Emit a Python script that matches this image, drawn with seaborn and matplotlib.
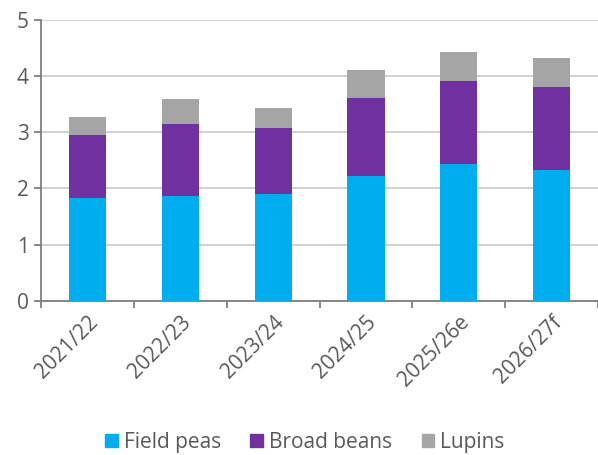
import numpy as np
import pandas as pd
import matplotlib
matplotlib.use("Agg")
import matplotlib.pyplot as plt
import seaborn as sns
from matplotlib.patches import Patch

# ====================== DATA ======================
seasons = ["2021/22", "2022/23", "2023/24", "2024/25", "2025/26e", "2026/27f"]
field_peas = [1.83, 1.86, 1.91, 2.23, 2.43, 2.33]
broad_beans = [1.13, 1.29, 1.16, 1.39, 1.49, 1.47]
lupins = [0.32, 0.45, 0.36, 0.49, 0.51, 0.53]

C_PEAS = "#00AEEF"
C_BEANS = "#7030A0"
C_LUPINS = "#A5A5A5"
TXT = "#595959"

df = pd.DataFrame({"season": seasons, "peas": field_peas,
                   "beans": broad_beans, "lupins": lupins})
df["beans_top"] = df["peas"] + df["beans"]
df["lupins_top"] = df["beans_top"] + df["lupins"]

# ====================== PLOT ======================
sns.set_theme(style="white")
plt.rcParams["font.family"] = ["Open Sans", "DejaVu Sans"]

fig = plt.figure(figsize=(5.98, 4.55), dpi=100)
ax = fig.add_axes([0.069, 0.339, 0.931, 0.617])

# stacked: draw totals first, then overlay lower segments
for col, c in [("lupins_top", C_LUPINS), ("beans_top", C_BEANS), ("peas", C_PEAS)]:
    sns.barplot(data=df, x="season", y=col, color=c, width=0.4,
                saturation=1, edgecolor="none", ax=ax, zorder=3)

ax.set_ylim(0, 5)
ax.set_xlim(-0.5, len(seasons) - 0.5)
ax.set_yticks(range(0, 6))
ax.yaxis.grid(True, color="#C8C8C8", linewidth=1.2, zorder=0)
ax.set_axisbelow(True)
ax.set_xlabel("")
ax.set_ylabel("")

for s in ["top", "right"]:
    ax.spines[s].set_visible(False)
for s in ["left", "bottom"]:
    ax.spines[s].set_color("#7F7F7F")
    ax.spines[s].set_linewidth(1.3)

# tick marks at category boundaries on x
ax.set_xticks(np.arange(-0.5, len(seasons), 1.0), minor=True)
ax.tick_params(axis="x", which="minor", length=5, color="#7F7F7F", width=1.3,
               direction="out", bottom=True)
ax.tick_params(axis="x", which="major", length=0, pad=8)
ax.tick_params(axis="y", length=5, color="#7F7F7F", width=1.3, direction="out",
               left=True, labelsize=15, labelcolor=TXT, pad=4)
plt.setp(ax.get_xticklabels(), rotation=45, ha="right", rotation_mode="anchor",
         fontsize=15, color=TXT)

handles = [Patch(color=C_PEAS, label="Field peas"),
           Patch(color=C_BEANS, label="Broad beans"),
           Patch(color=C_LUPINS, label="Lupins")]
leg = fig.legend(handles=handles, loc="center", bbox_to_anchor=(0.51, 0.027),
                 ncol=3, frameon=False, fontsize=15, handlelength=0.6,
                 handleheight=0.6, handletextpad=0.3, columnspacing=1.4)
for t in leg.get_texts():
    t.set_color(TXT)

fig.savefig("out.png", dpi=100)
